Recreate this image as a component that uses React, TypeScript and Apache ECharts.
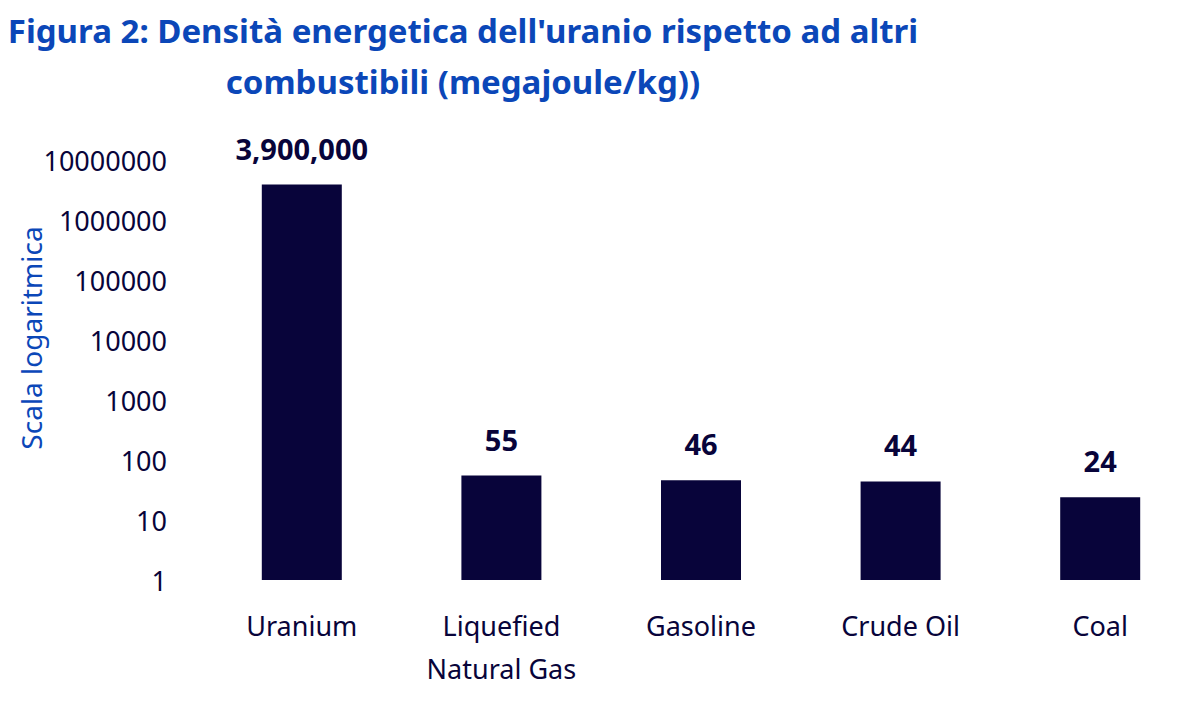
import React, { useEffect, useRef } from "react";
import * as echarts from "echarts";

const categories = ["Uranium", "Liquefied\nNatural Gas", "Gasoline", "Crude Oil", "Coal"];
const values = [3900000, 55, 46, 44, 24];
const valueLabels = ["3,900,000", "55", "46", "44", "24"];
const titleLines = ["Figura 2: Densità energetica dell'uranio rispetto ad altri", "combustibili (megajoule/kg))"];
const yAxisName = "Scala logaritmica";

const FONT = "'Noto Sans', 'Open Sans', sans-serif";
const NAVY = "#08043a";
const BLUE = "#0b47b8";

export default function App() {
  const ref = useRef<HTMLDivElement>(null);
  useEffect(() => {
    if (!ref.current) return;
    const chart = echarts.init(ref.current, undefined, { renderer: "svg" });
    chart.setOption({
      animation: false,
      backgroundColor: "#ffffff",
      textStyle: { fontFamily: FONT },
      grid: { left: 202, width: 998, top: 160, bottom: 131, containLabel: false },
      graphic: [
        {
          type: "text",
          x: 463,
          y: 5,
          style: {
            text: titleLines.join("\n"),
            font: `bold 33px ${FONT}`,
            fill: BLUE,
            align: "center",
            lineHeight: 51,
          },
        },
        {
          type: "text",
          x: 31,
          y: 338,
          rotation: Math.PI / 2,
          style: {
            text: yAxisName,
            font: `28px ${FONT}`,
            fill: BLUE,
            align: "center",
            verticalAlign: "middle",
          },
        },
      ],
      xAxis: {
        type: "category",
        data: categories,
        axisLine: { show: false },
        axisTick: { show: false },
        axisLabel: {
          color: NAVY,
          fontSize: 27,
          fontFamily: FONT,
          margin: 24,
          lineHeight: 43,
          interval: 0,
        },
      },
      yAxis: {
        type: "log",
        logBase: 10,
        min: 1,
        max: 10000000,
        splitLine: { show: false },
        axisLine: { show: false },
        axisTick: { show: false },
        axisLabel: {
          color: NAVY,
          fontSize: 27,
          fontFamily: FONT,
          margin: 35,
          formatter: (v: number) => String(Math.round(v)),
        },
      },
      series: [
        {
          type: "bar",
          data: values,
          barWidth: 80,
          itemStyle: { color: NAVY },
          label: {
            show: true,
            position: "top",
            distance: 22,
            color: NAVY,
            fontSize: 29,
            fontWeight: "bold",
            fontFamily: FONT,
            formatter: (p: any) => valueLabels[p.dataIndex],
          },
        },
      ],
    });
    return () => chart.dispose();
  }, []);
  return (
    <div
      ref={ref}
      style={{ position: "fixed", left: 0, top: 0, width: 1200, height: 711, background: "#fff" }}
    />
  );
}
